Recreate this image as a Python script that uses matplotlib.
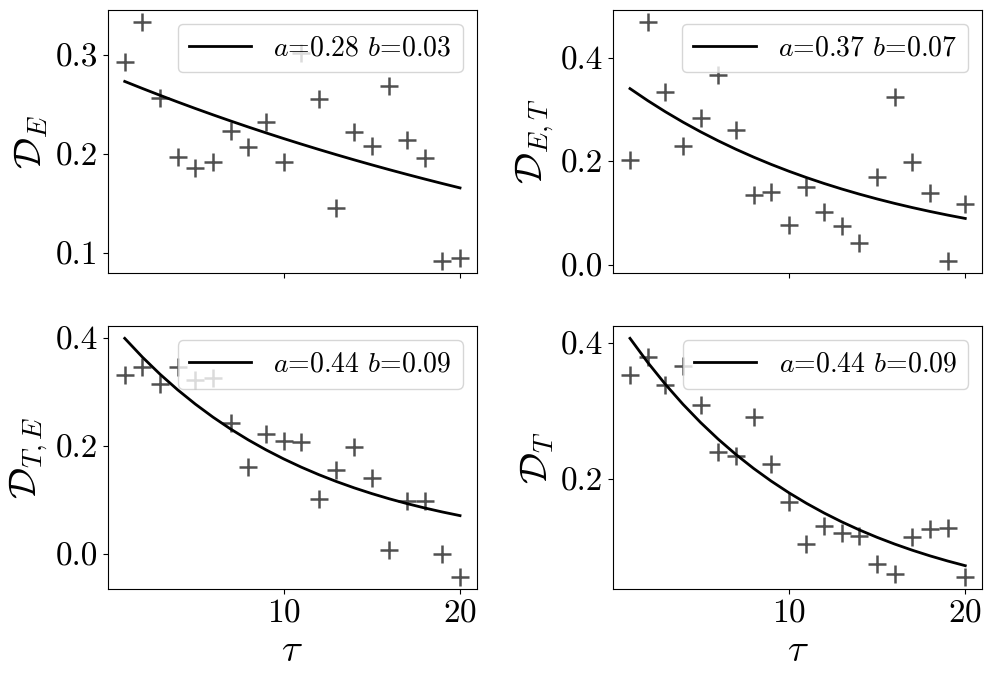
import numpy as np
import matplotlib
matplotlib.use("Agg")
import matplotlib.pyplot as plt

plt.rcParams['font.family'] = 'serif'
plt.rcParams['font.serif'] = ['cmr10']
plt.rcParams['mathtext.fontset'] = 'cm'
plt.rcParams['axes.unicode_minus'] = False
plt.rcParams['axes.formatter.use_mathtext'] = True

tau = np.arange(1, 21)

d_E = [0.293, 0.334, 0.257, 0.197, 0.186, 0.192, 0.223, 0.207, 0.233, 0.192,
       0.302, 0.256, 0.145, 0.222, 0.208, 0.269, 0.214, 0.196, 0.092, 0.095]
d_ET = [0.203, 0.469, 0.334, 0.230, 0.283, 0.366, 0.260, 0.135, 0.141, 0.077,
        0.150, 0.101, 0.074, 0.042, 0.169, 0.324, 0.198, 0.139, 0.008, 0.118]
d_TE = [0.331, 0.347, 0.316, 0.347, 0.322, 0.326, 0.242, 0.161, 0.223, 0.209,
        0.208, 0.102, 0.155, 0.198, 0.140, 0.008, 0.099, 0.099, -0.001, -0.043]
d_T = [0.352, 0.379, 0.338, 0.366, 0.309, 0.240, 0.233, 0.291, 0.222, 0.166,
       0.104, 0.131, 0.121, 0.117, 0.075, 0.061, 0.115, 0.126, 0.128, 0.056]

# fit parameters of a*exp(-b*tau)
fit_a = [0.281, 0.365, 0.438, 0.445]
fit_b = [0.0264, 0.0703, 0.0910, 0.0906]
fit_labels = [r'$a$=0.28 $b$=0.03', r'$a$=0.37 $b$=0.07',
              r'$a$=0.44 $b$=0.09', r'$a$=0.44 $b$=0.09']

ylabels = [r'$\mathcal{D}_E$', r'$\mathcal{D}_{E,T}$',
           r'$\mathcal{D}_{T,E}$', r'$\mathcal{D}_T$']
yticks = [[0.1, 0.2, 0.3], [0.0, 0.2, 0.4], [0.0, 0.2, 0.4], [0.2, 0.4]]
series = [d_E, d_ET, d_TE, d_T]

fig, axes = plt.subplots(2, 2, figsize=(9.97, 6.84), dpi=100, sharex=True)
fig.subplots_adjust(left=0.1083, right=0.985, top=0.9854, bottom=0.1389,
                    wspace=0.37, hspace=0.205)

for i, ax in enumerate(axes.flat):
    ax.scatter(tau, series[i], marker='+', s=180, color='#505050',
               linewidths=1.8)
    ax.plot(tau, fit_a[i] * np.exp(-fit_b[i] * tau), color='k', lw=2,
            label=fit_labels[i])
    ax.set_ylabel(ylabels[i], fontsize=28)
    ax.set_yticks(yticks[i])
    ax.set_yticklabels(['%.1f' % v for v in yticks[i]])
    ax.set_xticks([10, 20])
    ax.tick_params(labelsize=24)
    ax.legend(loc='upper right', fontsize=20, handlelength=2.25)

for ax in axes[1]:
    ax.set_xlabel(r'$\tau$', fontsize=28)

fig.savefig('out.png')
